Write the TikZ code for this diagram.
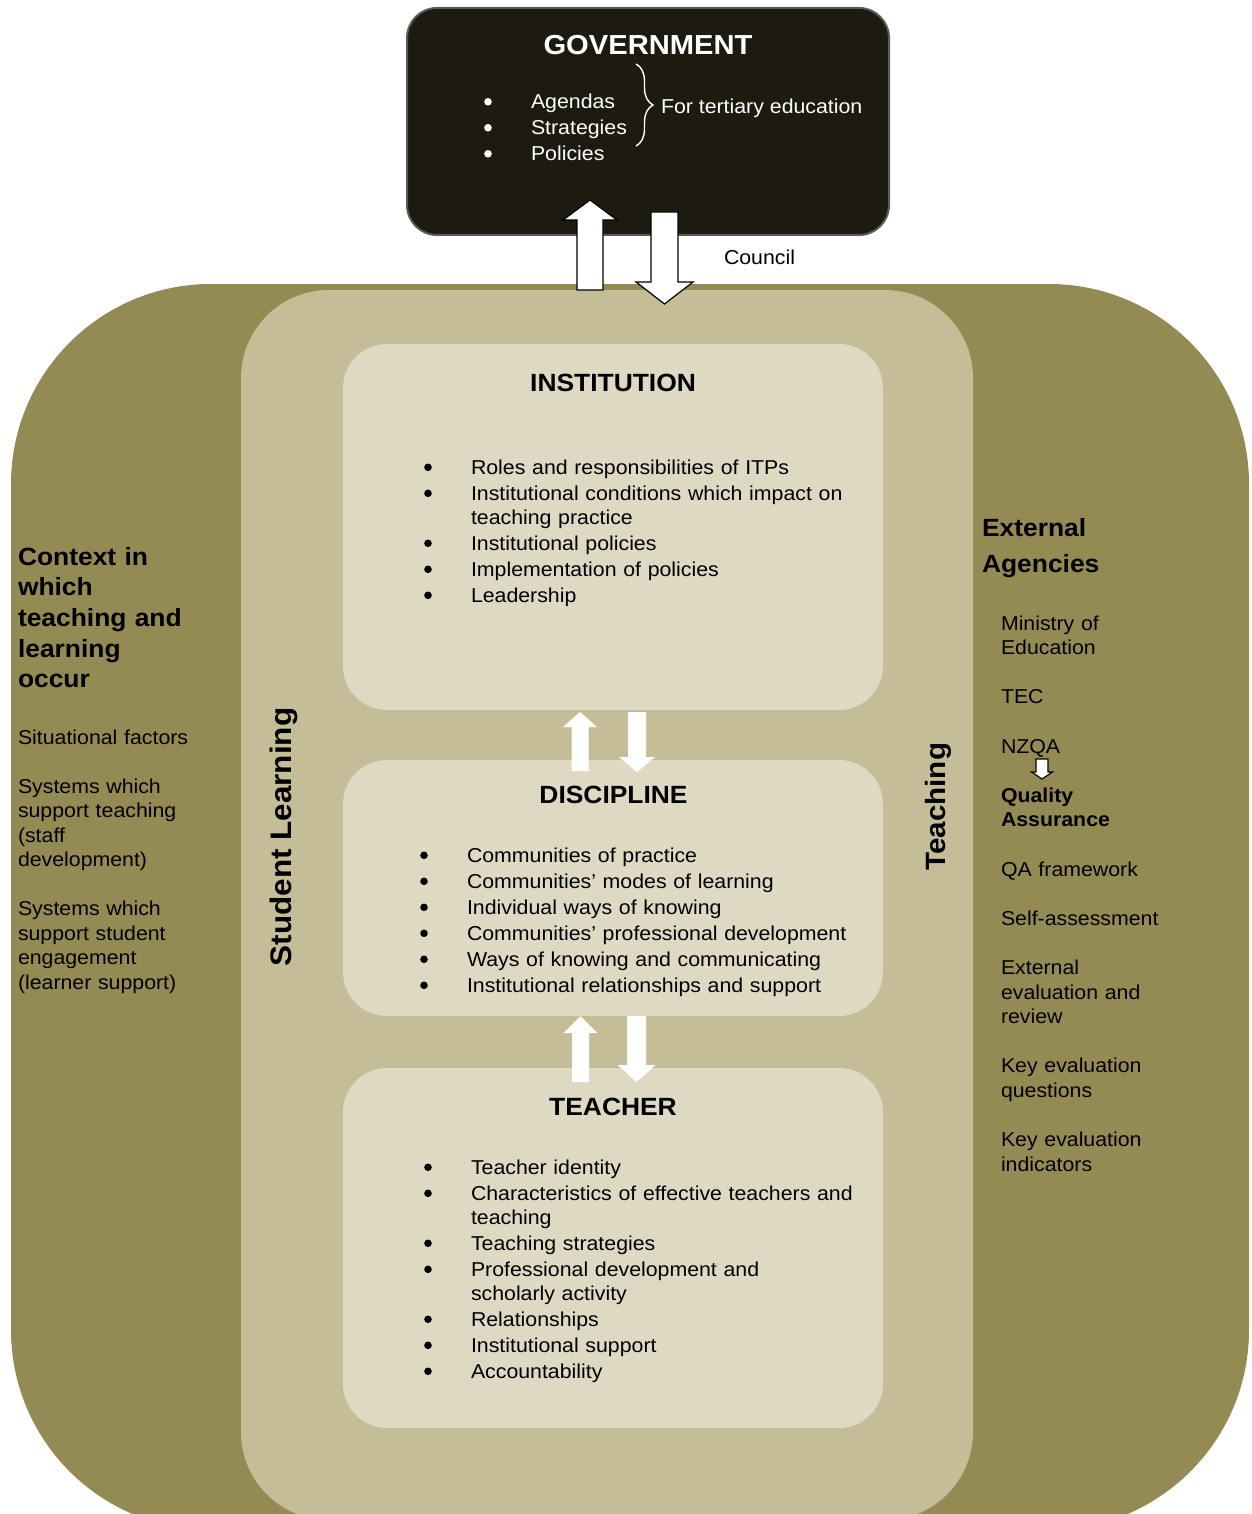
\documentclass[tikz,border=0pt]{standalone}
\usepackage{fontspec}
\setmainfont{Liberation Sans}[FakeStretch=1.06]
\usepackage{xcolor}
\usetikzlibrary{decorations.pathreplacing}

\definecolor{ctxcol}{HTML}{948A54}
\definecolor{bandcol}{HTML}{C4BD97}
\definecolor{boxcol}{HTML}{DDD9C3}
\definecolor{govcol}{HTML}{1D1B10}
\definecolor{rimcol}{HTML}{5A5A5A}

\newcommand{\dotmark}{\tikz[baseline=0pt]\fill (0pt,6.7pt) circle[radius=3.8pt];}
\newcommand{\itm}[1]{\hangindent=46.8pt\hangafter=1\noindent\makebox[46.8pt][l]{\dotmark}#1\par}
\newcommand{\blockarrow}[7]{%
  \draw[#1] (#2-#6,#3) -- (#2-#6,#4) -- (#2-#7,#4) -- (#2,#5) -- (#2+#7,#4) -- (#2+#6,#4) -- (#2+#6,#3) -- cycle;}

\tikzset{
  panel/.style={fill=boxcol, minimum width=540, minimum height=#1, rounded corners=44},
  headtext/.style={anchor=base, font=\fontsize{24.9}{28}\selectfont\bfseries},
  listtext/.style={anchor=base west, text width=440, align=left,
    font=\fontsize{20.1}{24}\selectfont\setlength{\parskip}{2pt}\setlength{\parindent}{0pt}},
  sidehead/.style={anchor=base west, text width=235, align=left, font=\fontsize{24.9}{#1}\selectfont\bfseries},
  sidetext/.style={anchor=base west, text width=235, align=left, font=\fontsize{20.1}{#1}\selectfont},
  sidelabel/.style={rotate=90, anchor=base, font=\fontsize{#1}{#1}\selectfont\bfseries},
  blockout/.style={fill=white, draw=black, line width=1.2},
  blockin/.style={fill=white, draw=none}
}

\begin{document}
\begin{tikzpicture}[x=1pt, y=-1pt,
    every node/.style={inner sep=0pt, outer sep=0pt, font=\fontsize{20.1}{24}\selectfont}]
  \clip (0,0) rectangle (1251,1514);

  \node[fill=ctxcol, minimum width=1238, minimum height=1246, rounded corners=200] (context) at (630,907) {};
  \node[fill=bandcol, minimum width=732, minimum height=1230, rounded corners=88] (band) at (607,905) {};

  \node[panel=366] (inst) at (613,527) {};
  \node[panel=256] (disc) at (613,888) {};
  \node[panel=360] (teach) at (613,1248) {};

  \node[fill=govcol, draw=rimcol, line width=2, minimum width=482, minimum height=227,
    rounded corners=30] (gov) at (648,121.5) {};

  \node[anchor=base, text=white, font=\fontsize{27.5}{30}\selectfont\bfseries] (govtitle) at (648,55) {GOVERNMENT};
  \node[listtext, text=white] (govlist) at (484.2,108.5) {\itm{Agendas}\itm{Strategies}\itm{Policies}};
  \draw[white, line width=1.4, decorate, decoration={brace, amplitude=17}] (636,64) -- (636,146);
  \node[anchor=base west, text=white] (tertiary) at (661,113.3) {For tertiary education};
  \node[anchor=base west] (council) at (724,265) {Council};

  \blockarrow{blockout}{590}{290}{220}{200}{13}{27}
  \blockarrow{blockout}{664.5}{212}{282}{304}{13.5}{28.5}

  \node[headtext] (insttitle) at (613,391) {INSTITUTION};
  \node[listtext] (instlist) at (424.2,474) {%
    \itm{Roles and responsibilities of ITPs}%
    \itm{Institutional conditions which impact on\newline teaching practice}%
    \itm{Institutional policies}%
    \itm{Implementation of policies}%
    \itm{Leadership}};

  \blockarrow{blockin}{580}{771}{727}{712}{8.5}{17}
  \blockarrow{blockin}{637}{712}{757}{772}{9}{18}

  \node[headtext] (disctitle) at (613.5,803) {DISCIPLINE};
  \node[listtext] (disclist) at (420.2,862) {%
    \itm{Communities of practice}%
    \itm{Communities’ modes of learning}%
    \itm{Individual ways of knowing}%
    \itm{Communities’ professional development}%
    \itm{Ways of knowing and communicating}%
    \itm{Institutional relationships and support}};

  \blockarrow{blockin}{580.5}{1082}{1033}{1016}{8.5}{17}
  \blockarrow{blockin}{636.5}{1016}{1065}{1082}{9.5}{19}

  \node[headtext] (teachtitle) at (613,1115) {TEACHER};
  \node[listtext] (teachlist) at (424.2,1174) {%
    \itm{Teacher identity}%
    \itm{Characteristics of effective teachers and\newline teaching}%
    \itm{Teaching strategies}%
    \itm{Professional development  and\newline scholarly activity}%
    \itm{Relationships}%
    \itm{Institutional support}%
    \itm{Accountability}};

  \node[sidelabel=29.7] (stulearn) at (291.7,837) {Student Learning};
  \node[sidelabel=27.9] (teaching) at (945,806.7) {Teaching};

  \node[sidehead=30.7] (ctxhead) at (18,565) {Context in\\which\\teaching and\\learning\\occur};
  \node[sidetext=24.5] (ctxlist) at (18,744) {Situational factors\\[24.5pt]
    Systems which\\support teaching\\(staff\\development)\\[24.5pt]
    Systems which\\support student\\engagement\\(learner support)};

  \node[sidehead=36] (exthead) at (982,536.7) {External\\Agencies};
  \node[sidetext=24.6] (extlist) at (1001,630) {Ministry of\\Education\\[24.6pt]
    TEC\\[24.6pt]
    NZQA\\[24.6pt]
    \textbf{Quality}\\\textbf{Assurance}\\[24.6pt]
    QA framework\\[24.6pt]
    Self-assessment\\[24.6pt]
    External\\evaluation and\\review\\[24.6pt]
    Key evaluation\\questions\\[24.6pt]
    Key evaluation\\indicators};
  \blockarrow{blockout}{1042}{759}{772}{779}{6}{10.5}
\end{tikzpicture}
\end{document}
